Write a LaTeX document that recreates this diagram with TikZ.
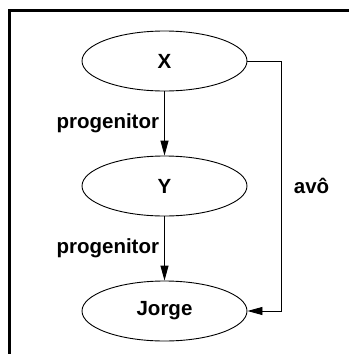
\documentclass[tikz,border=0pt]{standalone}
\usepackage{fontspec}
\setmainfont{Liberation Sans}
\usepackage{tikz}
\usetikzlibrary{arrows.meta, positioning, shapes.geometric}

\begin{document}
\begin{tikzpicture}[x=1pt,y=1pt,node distance=125pt,on grid,>={Triangle[length=15pt,width=8pt]},
        font=\fontsize{20.5}{24}\selectfont\bfseries,
        every node/.style={inner sep=5pt},
        person/.style={ellipse,draw,line width=0.9pt,minimum width=165pt,minimum height=60pt,inner sep=0pt},
        link/.style={->,line width=0.9pt}]

  \useasboundingbox (0,0) rectangle (349,-354);
  % frame, cut off on the right and at the bottom
  \draw[line width=2.6pt] (9.5,-354) -- (9.5,-10.5) -- (349,-10.5);

  \node[person] (X)                  at (164.5,-61) {X};
  \node[person] (Y)     [below=of X] {Y};
  \node[person] (Jorge) [below=of Y] {Jorge};

  \path[link] (X) edge node[left] {progenitor} (Y)
              (Y) edge node[left] {progenitor} (Jorge);
  \draw[link] (X.east) -- ++(34,0) |- (Jorge.east) node[pos=0.25,right=7pt] {avô};
\end{tikzpicture}
\end{document}
